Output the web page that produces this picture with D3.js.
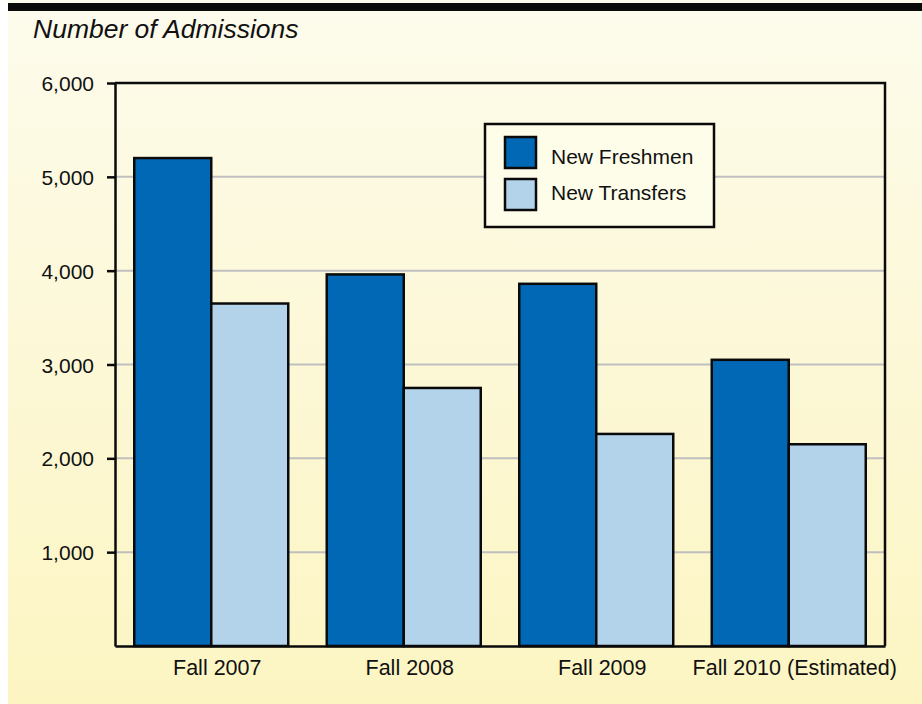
<!DOCTYPE html>
<html>
<head>
<meta charset="utf-8">
<script src="https://cdn.jsdelivr.net/npm/d3@7"></script>
<style>
  body { margin: 0; background: #fff; }
  svg { display: block; font-family: "Liberation Sans", Arial, sans-serif; }
</style>
</head>
<body>
<div id="chart"></div>
<script>
// data
const years = ["Fall 2007", "Fall 2008", "Fall 2009", "Fall 2010 (Estimated)"];
const seriesNames = ["New Freshmen", "New Transfers"];
const freshmen = [5200, 3960, 3860, 3050];
const transfers = [3650, 2750, 2260, 2150];
const yTicks = [1000, 2000, 3000, 4000, 5000, 6000];
const colors = ["#0068b4", "#b3d3eb"];

const W = 922, H = 704;
const plot = { left: 115, right: 885, top: 83, bottom: 646 };

const svg = d3.select("#chart").append("svg")
  .attr("width", W).attr("height", H);

const defs = svg.append("defs");
const grad = defs.append("linearGradient")
  .attr("id", "bg").attr("x1", 0).attr("y1", 0).attr("x2", 0).attr("y2", 1);
grad.append("stop").attr("offset", "0%").attr("stop-color", "#fdfbec");
grad.append("stop").attr("offset", "100%").attr("stop-color", "#fcf5c2");

svg.append("rect")
  .attr("x", 8).attr("y", 0).attr("width", W - 8).attr("height", H)
  .attr("fill", "url(#bg)");
svg.append("rect")
  .attr("x", 8).attr("y", 3).attr("width", W - 8).attr("height", 8)
  .attr("fill", "#0a0a0a");

svg.append("text")
  .attr("x", 33).attr("y", 38)
  .attr("font-size", 26.5).attr("font-style", "italic")
  .attr("fill", "#111")
  .text("Number of Admissions");

const x0 = d3.scaleBand().domain(years).range([plot.left, plot.right])
  .paddingInner(0.2).paddingOuter(0.1);
const x1 = d3.scaleBand().domain(seriesNames).range([0, x0.bandwidth()]);
const y = d3.scaleLinear().domain([0, 6000]).range([plot.bottom, plot.top]);

// gridlines
svg.append("g").selectAll("line")
  .data(yTicks.slice(0, -1)).enter()
  .append("line")
  .attr("x1", plot.left).attr("x2", plot.right)
  .attr("y1", d => y(d)).attr("y2", d => y(d))
  .attr("stroke", "#bfbfbf").attr("stroke-width", 2);

// bars
const rows = years.map((yr, i) => ({ year: yr, values: [freshmen[i], transfers[i]] }));
const groups = svg.append("g").selectAll("g")
  .data(rows).enter()
  .append("g")
  .attr("transform", d => `translate(${x0(d.year)},0)`);

groups.selectAll("rect")
  .data(d => d.values.map((v, j) => ({ name: seriesNames[j], value: v, j })))
  .enter().append("rect")
  .attr("x", d => x1(d.name))
  .attr("width", x1.bandwidth())
  .attr("y", d => y(d.value))
  .attr("height", d => y(0) - y(d.value))
  .attr("fill", d => colors[d.j])
  .attr("stroke", "#0a0a0a").attr("stroke-width", 2.5);

// frame: top and right border
svg.append("path")
  .attr("d", `M${plot.left},${plot.top}H${plot.right}V${plot.bottom}`)
  .attr("fill", "none").attr("stroke", "#0a0a0a").attr("stroke-width", 2.5);

// y axis
const yAxis = svg.append("g")
  .attr("transform", `translate(${plot.left},0)`)
  .call(d3.axisLeft(y).tickValues(yTicks).tickSize(8).tickSizeOuter(0)
    .tickFormat(d3.format(",")));
yAxis.select(".domain").attr("stroke", "#0a0a0a").attr("stroke-width", 2.5);
yAxis.selectAll(".tick line").attr("stroke", "#0a0a0a").attr("stroke-width", 2.5);
yAxis.selectAll(".tick text")
  .attr("font-size", 21).attr("fill", "#111")
  .attr("font-family", "'Liberation Sans', Arial, sans-serif")
  .attr("x", -21).attr("dy", "0.36em");

// x axis
const xAxis = svg.append("g")
  .attr("transform", `translate(0,${plot.bottom})`)
  .call(d3.axisBottom(x0).tickSize(0).tickSizeOuter(0));
xAxis.select(".domain").attr("stroke", "#0a0a0a").attr("stroke-width", 2.5);
xAxis.selectAll(".tick text")
  .attr("font-size", 21.5).attr("fill", "#111")
  .attr("font-family", "'Liberation Sans', Arial, sans-serif")
  .attr("dx", 6).attr("y", 29).attr("dy", 0);

// legend
const legend = svg.append("g").attr("transform", "translate(485,124)");
legend.append("rect")
  .attr("width", 229).attr("height", 103)
  .attr("fill", "#fefdea").attr("stroke", "#0a0a0a").attr("stroke-width", 2.5);
const items = legend.selectAll(".item")
  .data(seriesNames).enter()
  .append("g").attr("class", "item");
items.append("rect")
  .attr("x", 20).attr("y", (d, i) => 13 + i * 42)
  .attr("width", 31).attr("height", 31)
  .attr("fill", (d, i) => colors[i])
  .attr("stroke", "#0a0a0a").attr("stroke-width", 2.5);
items.append("text")
  .attr("x", 66).attr("y", (d, i) => 40 + i * 36)
  .attr("font-size", 21).attr("fill", "#111")
  .text(d => d);
</script>
</body>
</html>
